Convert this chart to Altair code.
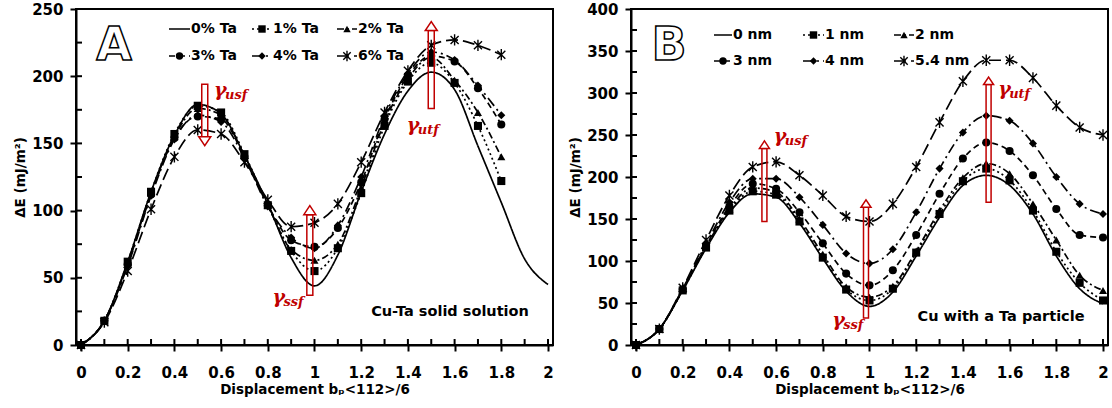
import altair as alt
import pandas as pd

# ---------------- data ----------------
X_FULL = [0.0, 0.1, 0.2, 0.3, 0.4, 0.5, 0.6, 0.7, 0.8, 0.9, 1.0,
          1.1, 1.2, 1.3, 1.4, 1.5, 1.6, 1.7, 1.8, 1.9, 2.0]

# Panel A: Cu-Ta solid solution
TA_SERIES = ["0% Ta", "1% Ta", "2% Ta", "3% Ta", "4% Ta", "6% Ta"]
TA_0 = [0, 18, 62, 114, 156, 179, 172, 141, 105, 65, 44, 67, 114, 157, 189, 203, 190, 148, 106, 64, 45]
TA_1 = [0, 18, 62, 114, 157, 178, 173, 142, 104, 70, 55, 72, 113, 163, 196, 210, 195, 163, 122]
TA_2 = [0, 18, 61, 113, 155, 176, 171, 141, 104, 71, 63, 75, 117, 166, 198, 214, 197, 173, 140]
TA_3 = [0, 18, 60, 112, 154, 170, 168, 140, 104, 78, 73, 87, 121, 168, 200, 215, 211, 191, 164]
TA_4 = [0, 18, 59, 111, 153, 171, 166, 139, 103, 80, 72, 89, 125, 170, 202, 218, 212, 193, 171]
TA_6 = [0, 17, 55, 101, 140, 160, 157, 136, 108, 88, 91, 105, 136, 173, 204, 223, 227, 223, 216]

# Panel B: Cu with a Ta particle
NM_SERIES = ["0 nm", "1 nm", "2 nm", "3 nm", "4 nm", "5.4 nm"]
NM_0 = [0, 19, 65, 115, 158, 180, 176, 145, 103, 64, 46, 63, 106, 152, 190, 202, 190, 156, 106, 67, 49]
NM_1 = [0, 19, 65, 116, 160, 183, 179, 147, 104, 66, 53, 67, 110, 156, 195, 210, 196, 160, 111, 74, 53]
NM_2 = [0, 19, 66, 117, 162, 187, 182, 150, 108, 69, 57, 70, 112, 160, 199, 216, 204, 168, 125, 83, 65]
NM_3 = [0, 19, 66, 118, 165, 192, 186, 158, 121, 85, 71, 89, 131, 180, 222, 241, 231, 202, 162, 131, 128]
NM_4 = [0, 19, 67, 120, 170, 198, 198, 176, 143, 109, 97, 114, 158, 210, 253, 273, 267, 240, 200, 168, 156]
NM_54 = [0, 19, 68, 125, 178, 212, 218, 202, 178, 153, 147, 168, 212, 265, 314, 339, 339, 318, 285, 259, 250]

# ---------------- styling ----------------
RED = "#C00000"
FONT = "DejaVu Sans"
DASHES = [[1, 0], [2, 3], [7, 3, 2, 3], [6, 4], [10, 4, 2, 4], [12, 5]]
FILLED_SHAPES = ["square", "triangle-up", "circle", "diamond"]
STAR = "M-1,-1L1,1M-1,1L1,-1M0,-1.4L0,1.4"
HEAD_UP = "M-1,0L1,0L0,-1.5Z"
HEAD_DOWN = "M-1,0L1,0L0,1.5Z"

W, H = 477, 336

# legend layout (pixels inside the plot area): column x for line start/end, row y
LEG_A = {"cols": [(93, 114), (176, 196), (261, 281)], "rows": [20, 47]}
LEG_B = {"cols": [(83, 101), (172, 193), (263, 283)], "rows": [26, 52]}

# arrows: x, tail value, head-base value, direction, body width, head size
ARROWS_A = [(0.53, 194, 155, "down", 6, 144), (0.98, 37, 97, "up", 6, 144), (1.50, 176, 234, "up", 6, 144)]
ARROWS_B = [(0.55, 147, 234, "up", 5, 100), (0.985, 32, 164, "up", 5, 100), (1.51, 170, 310, "up", 5, 100)]

# gamma labels: x, value, subscript
GAMMA_A = [(0.57, 190, "usf"), (0.82, 36, "ssf"), (1.395, 164, "utf")]
GAMMA_B = [(0.59, 249, "usf"), (0.84, 30, "ssf"), (1.551, 305, "utf")]


def series_frame(series, ys):
    rows = []
    for name, vals in zip(series, ys):
        for x, v in zip(X_FULL, vals):
            rows.append({"x": x, "v": v, "series": name})
    return pd.DataFrame(rows)


def panel(series, ys, ymax, letter, note, note_pos, leg, arrows, gammas):
    df = series_frame(series, ys)
    dash = alt.StrokeDash("series:N", scale=alt.Scale(domain=series, range=DASHES), legend=None)
    shape = alt.Shape("series:N", scale=alt.Scale(domain=series[1:5], range=FILLED_SHAPES), legend=None)

    xs = alt.Scale(domain=[0, 2], nice=False)
    ysc = alt.Scale(domain=[0, ymax], nice=False)
    x_enc = alt.X("x:Q", scale=xs,
                  axis=alt.Axis(values=[0, 0.2, 0.4, 0.6, 0.8, 1, 1.2, 1.4, 1.6, 1.8, 2], format="~g",
                                title="Displacement bₚ<112>/6"))
    y_enc = alt.Y("v:Q", scale=ysc,
                  axis=alt.Axis(values=list(range(0, ymax + 1, 50)), format="d", title="ΔE (mJ/m²)"))

    base = alt.Chart(df).encode(x=x_enc, y=y_enc)
    lines = base.mark_line(color="black", strokeWidth=1.7, interpolate="monotone").encode(strokeDash=dash)
    pts = alt.Chart(df[df.series.isin(series[1:5])]).mark_point(
        filled=True, color="black", size=65, opacity=1).encode(x="x:Q", y="v:Q", shape=shape)
    stars = alt.Chart(df[df.series == series[5]]).mark_point(
        shape=STAR, filled=False, color="black", size=65, strokeWidth=1.4, opacity=1).encode(x="x:Q", y="v:Q")

    # inner tick marks (minor and major)
    ytk = pd.DataFrame({"v": list(range(0, ymax + 1, 25))})
    xtk = pd.DataFrame({"x": X_FULL})
    yticks = alt.Chart(ytk).mark_rule(color="black", strokeWidth=2).encode(
        y="v:Q", x=alt.value(0), x2=alt.value(6))
    xticks = alt.Chart(xtk).mark_rule(color="black", strokeWidth=2).encode(
        x="x:Q", y=alt.value(H), y2=alt.value(H - 6))

    # legend
    lrows = []
    for i, name in enumerate(series):
        c0, c1 = leg["cols"][i % 3]
        lrows.append({"series": name, "lx0": c0, "lx1": c1, "lmid": (c0 + c1) / 2,
                      "ly": leg["rows"][i // 3]})
    ldf = pd.DataFrame(lrows)
    px = lambda f: alt.X(f, type="quantitative", scale=None, axis=None)
    py = lambda f: alt.Y(f, type="quantitative", scale=None, axis=None)
    lrule = alt.Chart(ldf).mark_rule(color="black", strokeWidth=1.7).encode(
        x=px("lx0"), x2="lx1:Q", y=py("ly"), strokeDash=dash)
    lpts = alt.Chart(ldf[ldf.series.isin(series[1:5])]).mark_point(
        filled=True, color="black", size=55, opacity=1).encode(x=px("lmid"), y=py("ly"), shape=shape)
    lstar = alt.Chart(ldf[ldf.series == series[5]]).mark_point(
        shape=STAR, filled=False, color="black", size=55, strokeWidth=1.4, opacity=1).encode(
        x=px("lmid"), y=py("ly"))
    ltext = alt.Chart(ldf).mark_text(align="left", baseline="middle", font=FONT, fontWeight="bold",
                                     fontSize=14, dx=1).encode(x=px("lx1"), y=py("ly"), text="series:N")

    # annotation arrows
    adf = pd.DataFrame([{"ax": a[0], "a0": a[1], "a1": a[2], "dir": a[3]} for a in arrows])
    bw, hs = arrows[0][4], arrows[0][5]
    body = alt.Chart(adf).mark_bar(size=bw, fillOpacity=0, stroke=RED, strokeWidth=1.5).encode(
        x="ax:Q", y="a0:Q", y2="a1:Q")
    heads_up = alt.Chart(adf[adf.dir == "up"]).mark_point(
        shape=HEAD_UP, size=hs, filled=True, fill="white", stroke=RED, strokeWidth=1.5, opacity=1).encode(
        x="ax:Q", y="a1:Q")
    layers = [body, heads_up]
    if (adf.dir == "down").any():
        heads_dn = alt.Chart(adf[adf.dir == "down"]).mark_point(
            shape=HEAD_DOWN, size=hs, filled=True, fill="white", stroke=RED, strokeWidth=1.5, opacity=1).encode(
            x="ax:Q", y="a1:Q")
        layers.append(heads_dn)

    gdf = pd.DataFrame([{"gx": g[0], "gv": g[1], "sub": g[2], "g": "γ"} for g in gammas])
    gam = alt.Chart(gdf).mark_text(align="left", baseline="middle", font="DejaVu Serif", fontStyle="italic",
                                   fontWeight="bold", fontSize=19, color=RED).encode(
        x="gx:Q", y="gv:Q", text="g:N")
    gsub = alt.Chart(gdf).mark_text(align="left", baseline="middle", font="DejaVu Serif", fontStyle="italic",
                                    fontWeight="bold", fontSize=13, color=RED, dx=11, dy=5).encode(
        x="gx:Q", y="gv:Q", text="sub:N")

    # panel letter and caption
    tdf = pd.DataFrame({"t": [letter]})
    let = alt.Chart(tdf).mark_text(font=FONT, fontSize=46, fontWeight="bold", fill="white", stroke="black",
                                   strokeWidth=1.5, baseline="middle", align="center").encode(
        x=alt.value(38), y=alt.value(37), text="t:N")
    ndf = pd.DataFrame({"t": [note]})
    cap = alt.Chart(ndf).mark_text(font=FONT, fontSize=14.5, fontWeight="bold", color="black",
                                   baseline="middle", align="center").encode(
        x=alt.value(note_pos[0]), y=alt.value(note_pos[1]), text="t:N")

    return alt.layer(lines, pts, stars, yticks, xticks, lrule, lpts, lstar, ltext,
                     *layers, gam, gsub, let, cap).properties(width=W, height=H)


pa = panel(TA_SERIES, [TA_0, TA_1, TA_2, TA_3, TA_4, TA_6], 250, "A", "Cu-Ta solid solution",
           (374, 303), LEG_A, ARROWS_A, GAMMA_A)
pb = panel(NM_SERIES, [NM_0, NM_1, NM_2, NM_3, NM_4, NM_54], 400, "B", "Cu with a Ta particle",
           (370, 308), LEG_B, ARROWS_B, GAMMA_B)

chart = alt.hconcat(pa, pb, spacing=12).properties(
    padding={"left": 12, "top": 1, "right": 0, "bottom": 0}
).configure_view(stroke="black", strokeWidth=2).configure_axis(
    domainColor="black", domainWidth=2, tickColor="black", tickWidth=2, tickSize=6,
    labelFont=FONT, labelFontWeight="bold", labelFontSize=15, labelColor="black",
    titleFont=FONT, titleFontWeight="bold", titleFontSize=13.5, titleColor="black", grid=False
).configure_axisX(labelPadding=14, titlePadding=2).configure_axisY(labelPadding=7, titlePadding=4)

chart.save("out.html", embed_options={"renderer": "svg", "actions": False})
